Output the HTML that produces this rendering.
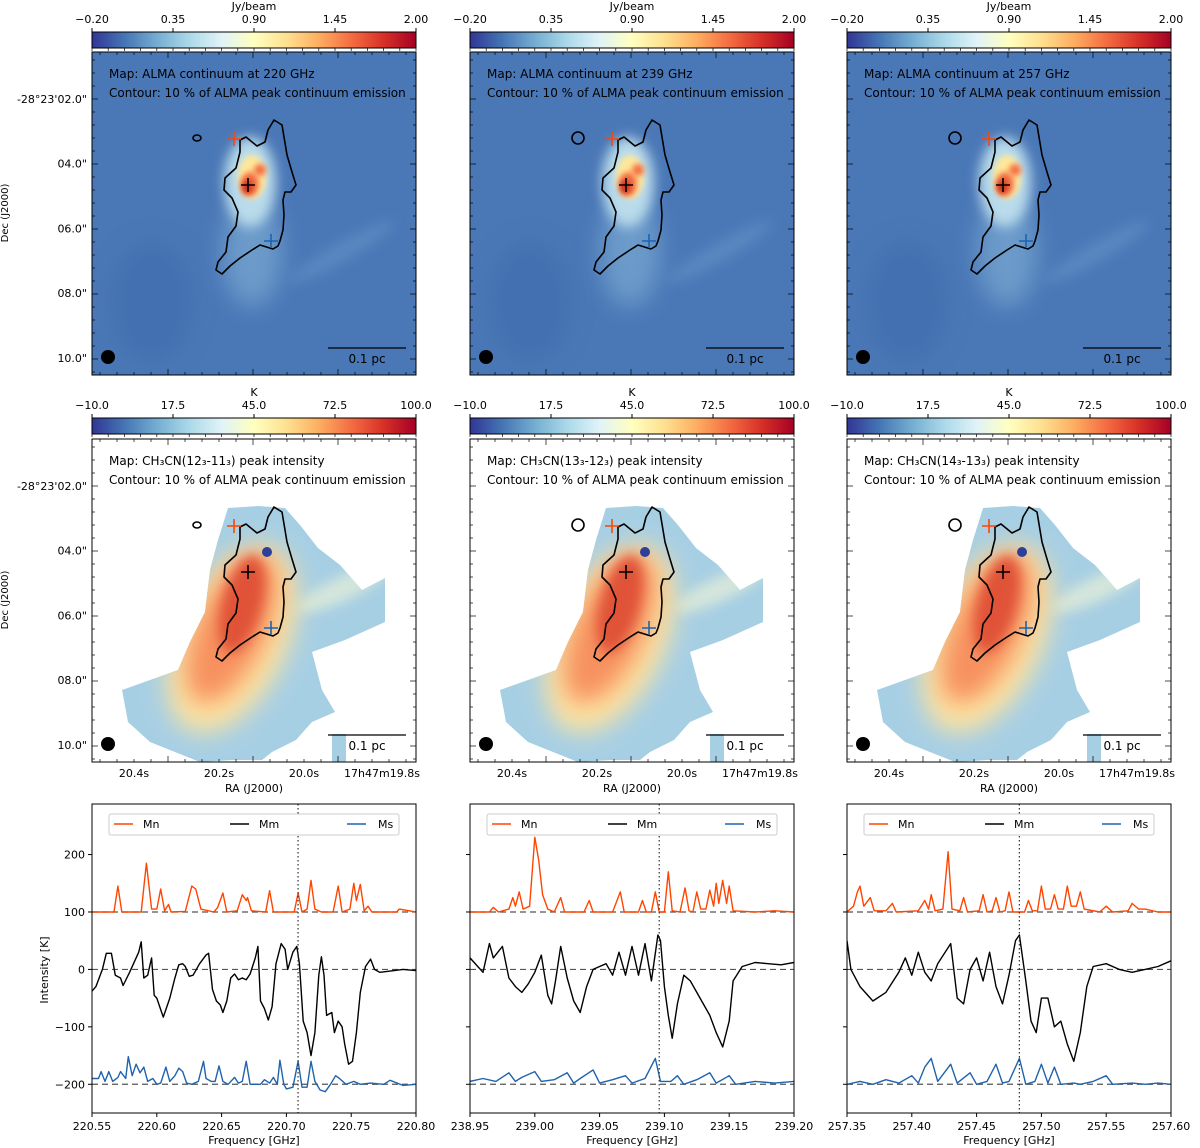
<!DOCTYPE html>
<html><head><meta charset="utf-8">
<style>
body{margin:0;background:#fff;}
svg{display:block;font-family:"DejaVu Sans","Liberation Sans",sans-serif;}
</style></head>
<body>
<svg id="fig" width="1200" height="1148" viewBox="0 0 1200 1148" xmlns="http://www.w3.org/2000/svg">
<defs>
<linearGradient id="cmap" x1="0" x2="1" y1="0" y2="0">
<stop offset="0" stop-color="#313695"/><stop offset="0.1" stop-color="#4575b4"/><stop offset="0.2" stop-color="#74add1"/><stop offset="0.3" stop-color="#abd9e9"/><stop offset="0.4" stop-color="#e0f3f8"/><stop offset="0.5" stop-color="#ffffbf"/><stop offset="0.6" stop-color="#fee090"/><stop offset="0.7" stop-color="#fdae61"/><stop offset="0.8" stop-color="#f46d43"/><stop offset="0.9" stop-color="#d73027"/><stop offset="1" stop-color="#a50026"/>
</linearGradient>
<filter id="blur6" x="-50%" y="-50%" width="200%" height="200%"><feGaussianBlur stdDeviation="6"/></filter>
<filter id="blur3" x="-50%" y="-50%" width="200%" height="200%"><feGaussianBlur stdDeviation="3"/></filter>
<filter id="blur12" x="-50%" y="-50%" width="200%" height="200%"><feGaussianBlur stdDeviation="12"/></filter>
<clipPath id="mapclip"><rect x="0" y="0" width="324" height="323"/></clipPath>
<clipPath id="specclip"><rect x="0" y="0" width="324" height="309"/></clipPath>
<clipPath id="regionclip"><path id="regionpath" d=""/></clipPath>
</defs>
<g id="root"></g>
</svg>
<script>
// ---------- spectral data (frequency GHz, intensity K) ----------
const xRanges = [[220.55,220.80],[238.95,239.20],[257.35,257.60]];
const xTickLabels = [
 ["220.55","220.60","220.65","220.70","220.75","220.80"],
 ["238.95","239.00","239.05","239.10","239.15","239.20"],
 ["257.35","257.40","257.45","257.50","257.55","257.60"]];
const yTicks = [200,100,0,-100,-200];
const markerFreqs = [220.709, 239.096, 257.483];
const seriesNames = ["Mn","Mm","Ms"];

const mn1 = [[220.55,100],[220.567,100],[220.570,145],[220.573,100],[220.588,100],[220.592,185],[220.596,105],[220.600,105],[220.603,140],[220.606,102],[220.609,113],[220.611,100],[220.622,101],[220.627,145],[220.630,140],[220.634,105],[220.644,100],[220.647,108],[220.651,133],[220.654,100],[220.662,102],[220.666,130],[220.669,120],[220.670,125],[220.673,102],[220.684,100],[220.687,137],[220.690,100],[220.706,100],[220.709,133],[220.712,100],[220.716,105],[220.719,155],[220.722,105],[220.727,100],[220.736,100],[220.740,145],[220.743,100],[220.749,105],[220.752,150],[220.754,120],[220.757,148],[220.760,102],[220.763,110],[220.766,100],[220.785,100],[220.787,105],[220.80,100]];
const mm1 = [[220.55,-38],[220.553,-30],[220.558,0],[220.561,28],[220.565,28],[220.568,-10],[220.572,-15],[220.574,-28],[220.579,-5],[220.582,10],[220.586,30],[220.588,48],[220.590,-15],[220.593,-10],[220.596,20],[220.598,-45],[220.600,-50],[220.603,-70],[220.605,-83],[220.610,-50],[220.614,-15],[220.617,8],[220.620,10],[220.622,5],[220.625,-12],[220.628,-10],[220.633,10],[220.638,25],[220.640,28],[220.643,-35],[220.646,-55],[220.649,-62],[220.651,-75],[220.654,-55],[220.657,-15],[220.660,-8],[220.663,-18],[220.666,-15],[220.669,-18],[220.672,-8],[220.676,20],[220.678,40],[220.680,-55],[220.683,-68],[220.686,-88],[220.689,-65],[220.692,10],[220.696,45],[220.699,35],[220.701,0],[220.705,30],[220.708,40],[220.710,10],[220.713,-90],[220.716,-110],[220.719,-150],[220.722,-110],[220.725,-10],[220.727,22],[220.729,-10],[220.731,-80],[220.735,-75],[220.737,-110],[220.740,-90],[220.743,-100],[220.745,-130],[220.748,-165],[220.751,-160],[220.754,-110],[220.757,-40],[220.761,5],[220.765,18],[220.768,0],[220.772,-5],[220.78,-3],[220.79,0],[220.80,-2]];
const ms1 = [[220.55,-190],[220.555,-190],[220.557,-178],[220.560,-195],[220.563,-178],[220.566,-195],[220.570,-188],[220.572,-178],[220.576,-190],[220.578,-152],[220.581,-185],[220.584,-165],[220.587,-180],[220.590,-170],[220.593,-195],[220.597,-190],[220.600,-200],[220.603,-198],[220.607,-170],[220.610,-195],[220.614,-185],[220.617,-172],[220.620,-178],[220.623,-198],[220.627,-200],[220.632,-195],[220.636,-160],[220.638,-190],[220.642,-195],[220.645,-195],[220.648,-168],[220.651,-195],[220.655,-200],[220.660,-188],[220.663,-198],[220.666,-195],[220.669,-160],[220.672,-200],[220.680,-200],[220.683,-192],[220.687,-198],[220.690,-188],[220.693,-200],[220.695,-158],[220.698,-200],[220.700,-208],[220.705,-205],[220.709,-160],[220.712,-205],[220.716,-205],[220.719,-160],[220.722,-195],[220.726,-210],[220.730,-213],[220.734,-200],[220.738,-185],[220.741,-190],[220.746,-200],[220.752,-195],[220.757,-200],[220.765,-198],[220.775,-200],[220.78,-193],[220.79,-202],[220.80,-200]];

const mn2 = [[238.95,100],[238.965,100],[238.968,108],[238.972,100],[238.980,105],[238.983,125],[238.985,110],[238.988,135],[238.991,105],[238.996,110],[239.000,230],[239.003,190],[239.006,130],[239.010,105],[239.015,100],[239.020,125],[239.023,100],[239.038,100],[239.042,120],[239.045,100],[239.060,100],[239.066,135],[239.069,100],[239.080,100],[239.083,120],[239.086,100],[239.090,100],[239.093,135],[239.096,100],[239.100,100],[239.103,170],[239.106,102],[239.112,100],[239.116,142],[239.119,102],[239.122,100],[239.125,135],[239.128,105],[239.132,105],[239.135,138],[239.138,110],[239.140,150],[239.142,115],[239.145,155],[239.148,115],[239.150,145],[239.153,102],[239.170,100],[239.185,102],[239.20,100]];
const mm2 = [[238.95,20],[238.96,-5],[238.965,45],[238.968,20],[238.975,40],[238.98,-15],[238.985,-30],[238.99,-40],[238.995,-25],[239.00,-5],[239.005,25],[239.01,-45],[239.013,-60],[239.016,-20],[239.02,40],[239.025,-15],[239.03,-55],[239.035,-75],[239.04,-30],[239.045,0],[239.05,5],[239.055,10],[239.06,-10],[239.065,30],[239.07,-10],[239.075,40],[239.08,-10],[239.085,45],[239.09,-20],[239.095,60],[239.097,50],[239.10,-30],[239.103,-80],[239.106,-120],[239.11,-60],[239.115,-10],[239.12,-20],[239.125,-40],[239.13,-60],[239.135,-80],[239.14,-110],[239.145,-135],[239.15,-90],[239.153,-20],[239.16,5],[239.17,12],[239.18,10],[239.19,8],[239.20,12]];
const ms2 = [[238.95,-195],[238.96,-190],[238.97,-195],[238.98,-180],[238.985,-195],[238.99,-188],[239.00,-178],[239.005,-195],[239.015,-192],[239.025,-180],[239.03,-198],[239.035,-190],[239.045,-175],[239.05,-198],[239.06,-192],[239.07,-185],[239.075,-198],[239.085,-190],[239.093,-155],[239.097,-195],[239.105,-195],[239.11,-185],[239.115,-200],[239.125,-192],[239.135,-180],[239.14,-198],[239.15,-185],[239.155,-200],[239.17,-195],[239.185,-198],[239.20,-195]];

const mn3 = [[257.35,100],[257.355,110],[257.358,135],[257.360,145],[257.363,110],[257.368,125],[257.371,102],[257.380,102],[257.385,115],[257.388,100],[257.405,102],[257.410,120],[257.413,105],[257.415,130],[257.418,102],[257.424,105],[257.428,205],[257.431,105],[257.437,102],[257.440,125],[257.443,100],[257.452,102],[257.455,130],[257.458,100],[257.462,102],[257.465,125],[257.468,100],[257.472,102],[257.475,135],[257.478,100],[257.487,100],[257.490,120],[257.493,102],[257.497,102],[257.500,145],[257.503,105],[257.507,105],[257.510,130],[257.513,105],[257.517,105],[257.520,145],[257.523,110],[257.527,110],[257.530,135],[257.533,105],[257.545,100],[257.550,110],[257.555,100],[257.567,102],[257.570,115],[257.575,105],[257.580,105],[257.590,100],[257.60,100]];
const mm3 = [[257.35,50],[257.353,0],[257.36,-30],[257.37,-55],[257.38,-40],[257.39,-5],[257.395,20],[257.40,-10],[257.405,30],[257.41,-5],[257.415,-20],[257.42,10],[257.43,45],[257.435,-50],[257.44,-60],[257.445,0],[257.45,20],[257.455,-20],[257.46,30],[257.465,-30],[257.47,-60],[257.475,-10],[257.48,50],[257.483,60],[257.488,-20],[257.492,-90],[257.496,-110],[257.50,-50],[257.505,-50],[257.51,-100],[257.515,-90],[257.52,-130],[257.525,-160],[257.53,-110],[257.535,-30],[257.54,5],[257.55,10],[257.56,0],[257.57,-5],[257.58,0],[257.59,5],[257.60,15]];
const ms3 = [[257.35,-200],[257.36,-195],[257.37,-200],[257.38,-192],[257.39,-198],[257.40,-185],[257.405,-198],[257.41,-170],[257.415,-155],[257.42,-195],[257.43,-165],[257.435,-198],[257.445,-180],[257.45,-200],[257.458,-195],[257.465,-165],[257.47,-198],[257.475,-195],[257.483,-155],[257.488,-200],[257.495,-195],[257.50,-165],[257.505,-198],[257.51,-170],[257.515,-200],[257.525,-198],[257.53,-200],[257.54,-195],[257.55,-185],[257.555,-200],[257.57,-198],[257.58,-200],[257.59,-198],[257.60,-200]];

const spectra = [[mn1,mm1,ms1],[mn2,mm2,ms2],[mn3,mm3,ms3]];
const seriesColors = ["#ff4500","#000000","#1f63ad"];

const cbLabelsTop = ["\u22120.20","0.35","0.90","1.45","2.00"];
const cbLabelsMid = ["\u221210.0","17.5","45.0","72.5","100.0"];
const decLabels = ["-28\u00b023'02.0\"","04.0\"","06.0\"","08.0\"","10.0\""];
const raLabels = ["20.4s","20.2s","20.0s","17h47m19.8s"];
const freqsCont = ["220","239","257"];
const lineNames = ["CH\u2083CN(12\u2083-11\u2083)","CH\u2083CN(13\u2083-12\u2083)","CH\u2083CN(14\u2083-13\u2083)"];

const NS="http://www.w3.org/2000/svg";
const root=document.getElementById('root');
function el(tag,attrs,parent,text){const e=document.createElementNS(NS,tag);for(const k in attrs)e.setAttribute(k,attrs[k]);if(text!==undefined)e.textContent=text;(parent||root).appendChild(e);return e;}

const colX=[92,470,847];
const W=324;
const contourPts=[[274,120],[282,125],[284,137],[287,155],[292,172],[296,185],[291,192],[285,192],[283,200],[284,215],[283,230],[280,241],[278,246],[273,249],[260,245],[252,250],[240,258],[230,266],[222,274],[216,270],[218,262],[226,252],[228,237],[236,226],[238,212],[232,198],[224,190],[225,178],[236,168],[240,152],[240,140],[246,137],[257,146],[265,142],[268,130]];
function contourPath(){return 'M'+contourPts.map(p=>(p[0]-92)+','+(p[1]-52)).join(' L')+' Z';}
const regionPts=[[228,508],[258,506],[285,508],[300,525],[318,548],[340,565],[362,590],[385,578],[385,622],[345,640],[312,652],[322,690],[335,712],[312,722],[296,740],[272,752],[262,760],[232,760],[200,762],[175,752],[150,742],[128,722],[122,690],[150,680],[178,670],[190,642],[205,612],[210,570],[218,540]];
document.getElementById('regionpath').setAttribute('d','M'+regionPts.map(p=>(p[0]-92)+','+(p[1]-439)).join(' L')+' Z');

function colorbar(cx,y,labels,title,idx){
  const g=el('g',{});
  
  
  el('rect',{x:cx,y:y,width:W,height:16,fill:'url(#cmap)',stroke:'#000','stroke-width':1},g);
  const tt=el('text',{x:cx+W/2,y:y-22,'text-anchor':'middle','font-size':11},g,title);
  
  labels.forEach((l,i)=>{const x=cx+i*W/4;
    el('line',{x1:x,x2:x,y1:y,y2:y-4,stroke:'#000'},g);
    const t=el('text',{x:x,y:y-9,'text-anchor':'middle','font-size':11},g,l);
    
    
  });
  for(let i=0;i<=20;i++){const x=cx+i*W/20;el('line',{x1:x,x2:x,y1:y+16,y2:y+19,stroke:'#000','stroke-width':0.7},g);}
}

function mapPanel(c,top,row){
  const cx=colX[c];
  const g=el('g',{transform:`translate(${cx},${top})`});
  
  
  const inner=el('g',{'clip-path':'url(#mapclip)'},g);
  if(row===0){
    el('rect',{x:0,y:0,width:W,height:323,fill:'#4a77b6'},inner);
    el('ellipse',{cx:60,cy:250,rx:40,ry:60,fill:'#4270b0',filter:'url(#blur12)'},inner);
    el('ellipse',{cx:250,cy:200,rx:60,ry:10,transform:'rotate(-30 250 200)',fill:'#6392c6',opacity:0.6,filter:'url(#blur6)'},inner);
    el('ellipse',{cx:160,cy:200,rx:30,ry:55,fill:'#7aaad3',opacity:0.7,filter:'url(#blur12)'},inner);
    el('ellipse',{cx:158,cy:130,rx:26,ry:45,fill:'#b9dbeb',filter:'url(#blur6)'},inner);
    el('ellipse',{cx:160,cy:125,rx:14,ry:22,fill:'#ffe89a',filter:'url(#blur3)'},inner);
    el('ellipse',{cx:158,cy:132,rx:9,ry:12,fill:'#f46d43',filter:'url(#blur3)'},inner);
    el('ellipse',{cx:168,cy:118,rx:6,ry:6,fill:'#f46d43',filter:'url(#blur3)'},inner);
    el('ellipse',{cx:155,cy:135,rx:5,ry:7,fill:'#c8301f',filter:'url(#blur3)'},inner);
  } else {
    el('rect',{x:0,y:0,width:W,height:323,fill:'#ffffff'},inner);
    const rg=el('g',{'clip-path':'url(#regionclip)'},inner);
    el('rect',{x:0,y:0,width:W,height:323,fill:'#a7cfe4'},rg);
    el('ellipse',{cx:250,cy:150,rx:50,ry:12,transform:'rotate(-25 250 150)',fill:'#e8f0d8',opacity:0.7,filter:'url(#blur6)'},rg);
    el('ellipse',{cx:140,cy:200,rx:55,ry:100,transform:'rotate(25 140 200)',fill:'#fde3a0',filter:'url(#blur12)'},rg);
    el('ellipse',{cx:140,cy:190,rx:35,ry:80,transform:'rotate(25 140 190)',fill:'#f7915e',filter:'url(#blur12)'},rg);
    el('ellipse',{cx:150,cy:165,rx:20,ry:50,transform:'rotate(15 150 165)',fill:'#e05238',filter:'url(#blur6)'},rg);
    el('rect',{x:240,y:295,width:14,height:28,fill:'#a7cfe4'},inner);
    el('circle',{cx:175,cy:113,r:5,fill:'#2e3f96'},inner);
  }
  el('rect',{x:0,y:0,width:W,height:323,fill:'none',stroke:'#000','stroke-width':1},g);
  for(let i=0;i<=24;i++){const y=8+i*13;if(y>=323)continue;const L=(i%5===3)?6:3;
    el('line',{x1:0,x2:L,y1:y,y2:y,stroke:'#000','stroke-width':0.7},g);
    el('line',{x1:W,x2:W-L,y1:y,y2:y,stroke:'#000','stroke-width':0.7},g);}
  for(let i=0;i<=20;i++){const x=59+(i-4)*17;if(x<=0||x>=W)continue;const L=(i%5===0)?6:3;
    el('line',{x1:x,x2:x,y1:323,y2:323-L,stroke:'#000','stroke-width':0.7},g);
    el('line',{x1:x,x2:x,y1:0,y2:L,stroke:'#000','stroke-width':0.7},g);}
  const t1=el('text',{x:17,y:26,'font-size':12},g,row===0?`Map: ALMA continuum at ${freqsCont[c]} GHz`:`Map: ${lineNames[c]} peak intensity`);
  
  const t2=el('text',{x:17,y:45,'font-size':12},g,'Contour: 10 % of ALMA peak continuum emission');
  
  const cp=el('path',{d:contourPath(),fill:'none',stroke:'#000','stroke-width':1.6,'stroke-linejoin':'round'},g);
  
  el('ellipse',{cx:105+(c?3:0),cy:86,rx:4+(c?2:0),ry:3+(c?3:0),fill:'none',stroke:'#000','stroke-width':1.6},g);
  const mk=[[142,87,'#ff4500','marker-mn'],[156,133,'#000','marker-mm'],[179,189,'#1f63ad','marker-ms']];
  mk.forEach(m=>{const p=el('path',{d:`M${m[0]-7},${m[1]} h14 M${m[0]},${m[1]-7} v14`,stroke:m[2],'stroke-width':1.6},g);
    });
  el('circle',{cx:16,cy:305,r:7,fill:'#000'},g);
  el('line',{x1:236,x2:314,y1:296,y2:296,stroke:'#000','stroke-width':1.2},g);
  el('text',{x:275,y:311,'text-anchor':'middle','font-size':12},g,'0.1 pc');
  if(c===0){
    decLabels.forEach((l,i)=>{el('text',{x:-5,y:51+i*64.7,'text-anchor':'end','font-size':11},g,l);});
    const dl=el('text',{x:-84,y:161,'text-anchor':'middle','font-size':10,transform:`rotate(-90 -84 161)`},g,'Dec (J2000)');
    
  }
  if(row===1){
    raLabels.forEach((l,i)=>{el('text',{x:[42,127,212,290][i],y:338,'text-anchor':'middle','font-size':11},g,l);});
    el('text',{x:162,y:353,'text-anchor':'middle','font-size':11},g,'RA (J2000)');
  }
}

for(let c=0;c<3;c++){
  colorbar(colX[c],32,cbLabelsTop,'Jy/beam',c);
  mapPanel(c,52,0);
  colorbar(colX[c],418,cbLabelsMid,'K',c+3);
  mapPanel(c,439,1);
}

const spTop=804, spH=309;
function yScale(v){return (288-v)*spH/538;}
for(let c=0;c<3;c++){
  const [x0,x1]=xRanges[c];
  const xScale=f=>(f-x0)/(x1-x0)*W;
  const g=el('g',{transform:`translate(${colX[c]},${spTop})`});
  
  
  const inner=el('g',{'clip-path':'url(#specclip)'},g);
  [100,0,-200].forEach(v=>{el('line',{x1:0,x2:W,y1:yScale(v),y2:yScale(v),stroke:'#555','stroke-width':1.2,'stroke-dasharray':'6,4'},inner);});
  spectra[c].forEach((s,k)=>{
    const p=el('path',{d:'M'+s.map(pt=>xScale(pt[0]).toFixed(1)+','+yScale(pt[1]).toFixed(1)).join(' L'),fill:'none',stroke:seriesColors[k],'stroke-width':1.4,'stroke-linejoin':'round'},inner);
    
  });
  const mx=xScale(markerFreqs[c]);
  el('line',{x1:mx,x2:mx,y1:0,y2:spH,stroke:'#333','stroke-width':1.2,'stroke-dasharray':'1.5,2.5'},inner);
  el('rect',{x:0,y:0,width:W,height:spH,fill:'none',stroke:'#000','stroke-width':1},g);
  const lg=el('g',{},g);
  
  
  el('rect',{x:17,y:10,width:290,height:21,fill:'#fff',stroke:'#ccc','stroke-width':1,rx:2},lg);
  [[22,51],[138,167],[255,286]].forEach((p,k)=>{
    el('line',{x1:p[0],x2:p[0]+19,y1:20,y2:20,stroke:seriesColors[k],'stroke-width':1.6},lg);
    const t=el('text',{x:p[1],y:24,'font-size':11},lg,seriesNames[k]);
    
  });
  xTickLabels[c].forEach((l,i)=>{const x=i*W/5;
    el('line',{x1:x,x2:x,y1:spH,y2:spH+4,stroke:'#000'},g);
    el('text',{x:x,y:spH+17,'text-anchor':'middle','font-size':11},g,l);});
  el('text',{x:W/2,y:spH+31,'text-anchor':'middle','font-size':11},g,'Frequency [GHz]');
  yTicks.forEach(v=>{const y=yScale(v);el('line',{x1:0,x2:-4,y1:y,y2:y,stroke:'#000'},g);
    if(c===0) el('text',{x:-7,y:y+4,'text-anchor':'end','font-size':11},g,v<0?'\u2212'+(-v):String(v));});
  if(c===0){const t=el('text',{x:-44,y:166,'text-anchor':'middle','font-size':11,transform:'rotate(-90 -44 166)'},g,'Intensity [K]');
    }
}
</script>
</body></html>
